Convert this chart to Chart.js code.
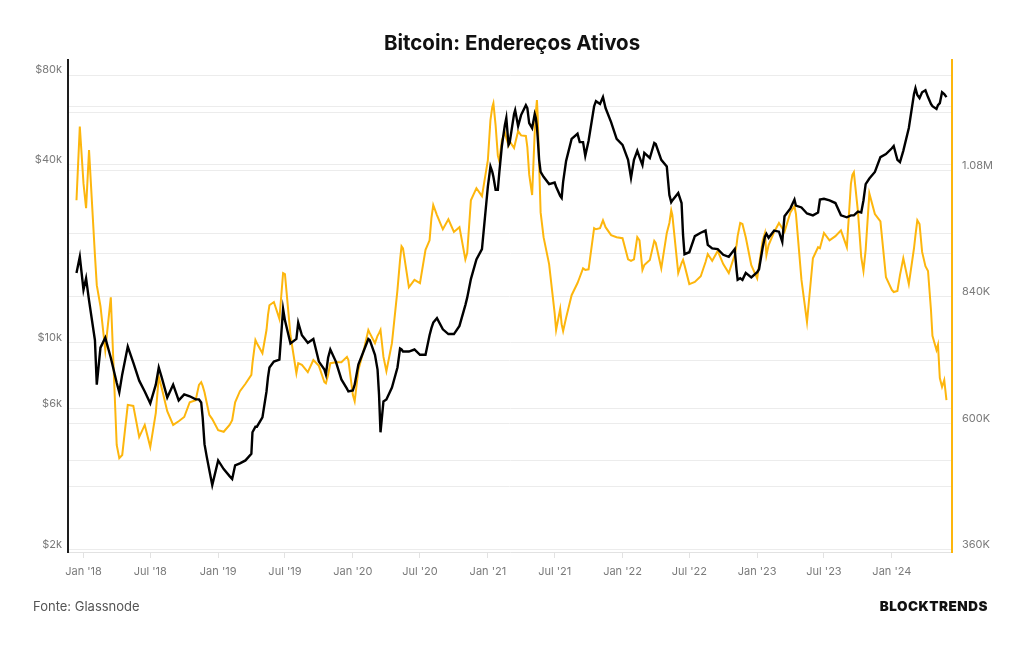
<!DOCTYPE html>
<html>
<head>
<meta charset="utf-8">
<script src="https://cdn.jsdelivr.net/npm/chart.js@4.4.1/dist/chart.umd.min.js"></script>
<style>
  html, body { margin: 0; padding: 0; background: #fff; }
  #wrap { position: relative; width: 1024px; height: 645px; font-family: Inter, "Noto Sans", sans-serif; }
  #title { position: absolute; left: 0; top: 30px; width: 1024px; text-align: center; font-size: 20.5px; font-weight: 700; color: #111; }
  #src { position: absolute; left: 33px; top: 598px; font-size: 13px; color: #555; }
  #brand { position: absolute; right: 36px; top: 598px; font-size: 13.5px; font-weight: 900; letter-spacing: 0.5px; color: #111; }
  canvas { position: absolute; left: 0; top: 0; }
</style>
</head>
<body>
<div id="wrap">
  <canvas id="ch" width="1024" height="645"></canvas>
  <div id="title">Bitcoin: Endereços Ativos</div>
  <div id="src">Fonte: Glassnode</div>
  <div id="brand">BLOCKTRENDS</div>
</div>
<script>
const dates = [
  '2017-12-13','2017-12-22',
  '2018-01-01','2018-01-08','2018-01-16','2018-02-01','2018-02-06','2018-02-16','2018-03-01','2018-03-16','2018-04-01','2018-04-08','2018-04-16','2018-05-01','2018-05-16','2018-06-01','2018-06-16','2018-07-01','2018-07-16','2018-07-24','2018-08-01','2018-08-16','2018-09-01','2018-09-16','2018-10-01','2018-10-16','2018-11-01','2018-11-10','2018-11-16','2018-11-20','2018-11-25','2018-12-01','2018-12-08','2018-12-16',
  '2019-01-01','2019-01-16','2019-02-01','2019-02-08','2019-02-16','2019-03-01','2019-03-16','2019-04-01','2019-04-04','2019-04-12','2019-04-16','2019-05-01','2019-05-12','2019-05-16','2019-05-20','2019-06-01','2019-06-16','2019-06-26','2019-07-01','2019-07-16','2019-08-01','2019-08-06','2019-08-16','2019-09-01','2019-09-16','2019-10-01','2019-10-16','2019-10-20','2019-10-26','2019-11-01','2019-11-16','2019-12-01','2019-12-16','2019-12-20',
  '2020-01-01','2020-01-06','2020-01-16','2020-02-01','2020-02-12','2020-02-16','2020-03-01','2020-03-08','2020-03-12','2020-03-16','2020-03-24','2020-04-01','2020-04-16','2020-05-01','2020-05-08','2020-05-12','2020-05-16','2020-06-01','2020-06-16','2020-07-01','2020-07-16','2020-07-27','2020-08-01','2020-08-06','2020-08-16','2020-09-01','2020-09-16','2020-10-01','2020-10-16','2020-11-01','2020-11-06','2020-11-16','2020-12-01','2020-12-16',
  '2021-01-01','2021-01-08','2021-01-13','2021-01-16','2021-01-22','2021-01-28','2021-02-01','2021-02-08','2021-02-16','2021-02-20','2021-02-26','2021-03-01','2021-03-13','2021-03-16','2021-03-24','2021-04-01','2021-04-14','2021-04-18','2021-04-23','2021-05-01','2021-05-08','2021-05-11','2021-05-14','2021-05-16','2021-05-20','2021-05-24','2021-06-01','2021-06-16','2021-07-01','2021-07-05','2021-07-16','2021-07-20','2021-07-24','2021-08-01','2021-08-16','2021-09-01','2021-09-07','2021-09-16','2021-09-22','2021-10-01','2021-10-16','2021-10-21','2021-11-01','2021-11-09','2021-11-16','2021-12-01','2021-12-16',
  '2022-01-01','2022-01-16','2022-01-24','2022-02-01','2022-02-10','2022-02-16','2022-02-24','2022-03-01','2022-03-16','2022-03-28','2022-04-01','2022-04-16','2022-05-01','2022-05-08','2022-05-13','2022-05-16','2022-06-01','2022-06-10','2022-06-14','2022-06-18','2022-07-01','2022-07-16','2022-08-01','2022-08-14','2022-08-20','2022-09-01','2022-09-16','2022-10-01','2022-10-16','2022-11-01','2022-11-06','2022-11-09','2022-11-16','2022-11-22','2022-12-01','2022-12-16',
  '2023-01-01','2023-01-06','2023-01-16','2023-01-22','2023-01-26','2023-02-01','2023-02-16','2023-03-01','2023-03-10','2023-03-16','2023-04-01','2023-04-12','2023-04-16','2023-05-01','2023-05-16','2023-06-01','2023-06-15','2023-06-20','2023-07-01','2023-07-16','2023-08-01','2023-08-16','2023-09-01','2023-09-12','2023-09-16','2023-09-20','2023-10-01','2023-10-10','2023-10-16','2023-10-22','2023-11-01','2023-11-16','2023-12-01','2023-12-16',
  '2024-01-01','2024-01-06','2024-01-16','2024-01-23','2024-02-01','2024-02-16','2024-03-01','2024-03-05','2024-03-10','2024-03-16','2024-03-23','2024-04-01','2024-04-08','2024-04-16','2024-04-20','2024-05-01','2024-05-05','2024-05-10','2024-05-16','2024-05-22','2024-05-28'
];

// BTC price, thousands of USD (left, log axis)
const btcPriceK = [
  17.2, 19.5,
  15.1, 16.5, 13.9, 10.2, 7.22, 9.63, 10.4, 8.9, 7.33, 6.8, 7.82, 9.71, 8.57, 7.45, 6.85, 6.25, 7.22, 8.25, 7.64, 6.54, 7.22, 6.39, 6.7, 6.6, 6.44, 6.44, 6.29, 5.6, 4.55, 4.13, 3.72, 3.31,
  4.01, 3.75, 3.55, 3.47, 3.86, 3.92, 4.01, 4.22, 4.99, 5.21, 5.21, 5.6, 6.85, 7.64, 8.25, 8.64, 8.77, 13.0, 11.9, 9.95, 10.3, 11.7, 10.6, 10.0, 10.3, 8.64, 8.12, 7.82, 8.9, 9.49, 8.64, 7.52, 7.0, 6.85,
  6.9, 7.22, 8.44, 9.49, 10.3, 10.2, 9.11, 8.12, 6.7, 4.99, 6.34, 6.44, 7.06, 8.25, 9.56, 9.49, 9.34, 9.34, 9.49, 9.11, 9.11, 10.6, 11.2, 11.7, 12.1, 11.1, 10.7, 10.7, 11.4, 13.4, 14.2, 16.4, 19.1, 20.7,
  33.6, 39.3, 37.7, 36.3, 32.8, 32.8, 37.5, 46.1, 54.2, 57.3, 46.5, 47.2, 59.1, 60.9, 53.8, 58.6, 63.3, 61.9, 55.1, 53.0, 59.1, 57.3, 53.4, 49.5, 41.4, 37.7, 36.3, 34.3, 34.7, 33.6, 31.3, 30.8, 34.9, 41.0, 48.7, 50.7, 47.5, 47.5, 42.7, 48.0, 62.8, 65.3, 63.9, 67.4, 61.9, 55.5, 48.7,
  46.5, 41.4, 36.0, 41.4, 44.4, 42.3, 39.8, 43.7, 42.0, 47.2, 46.8, 41.4, 39.3, 31.5, 29.8, 30.2, 32.0, 29.6, 23.1, 19.9, 20.2, 22.9, 23.5, 23.9, 21.4, 20.8, 20.7, 19.8, 19.5, 20.7, 17.6, 16.3, 16.5, 16.3, 17.2, 16.6,
  17.3, 17.7, 21.0, 22.8, 23.3, 22.6, 23.9, 23.7, 21.9, 26.7, 28.4, 30.4, 29.0, 28.6, 27.3, 26.9, 27.5, 30.4, 30.6, 30.2, 29.6, 26.9, 26.5, 26.9, 26.9, 26.9, 27.7, 27.5, 30.2, 34.3, 35.8, 37.7, 42.3, 43.3,
  45.3, 46.1, 41.4, 40.7, 44.4, 53.0, 69.0, 72.2, 68.5, 66.9, 70.0, 71.1, 67.4, 63.9, 62.8, 61.5, 63.3, 64.3, 70.0, 69.0, 67.4
];

// active addresses, thousands (right axis)
const activeAddrK = [
  1023, 1163,
  1055, 1008, 1118, 919, 862, 822, 739, 839, 559, 534, 540, 635, 633, 574, 597, 555, 620, 688, 667, 623, 597, 604, 612, 640, 644, 673, 678, 671, 659, 639, 616, 608,
  587, 584, 597, 606, 640, 661, 675, 692, 714, 758, 752, 733, 777, 805, 824, 830, 798, 885, 883, 767, 695, 714, 711, 697, 720, 709, 678, 676, 692, 714, 716, 716, 726, 720,
  654, 642, 701, 743, 777, 771, 752, 766, 771, 777, 726, 699, 752, 853, 910, 936, 932, 858, 872, 866, 929, 947, 989, 1014, 995, 968, 987, 963, 972, 911, 923, 1023, 1046, 1031,
  1099, 1175, 1200, 1207, 1165, 1108, 1097, 1137, 1152, 1141, 1127, 1135, 1122, 1131, 1154, 1146, 1145, 1124, 1072, 1033, 1152, 1190, 1213, 1184, 1090, 1000, 953, 902, 809, 777, 817, 788, 775, 800, 843, 866, 877, 894, 891, 892, 970, 968, 970, 985, 972, 957, 953,
  951, 911, 908, 911, 953, 947, 891, 900, 910, 946, 942, 894, 961, 980, 1004, 995, 885, 904, 910, 900, 864, 868, 879, 906, 921, 908, 927, 902, 885, 919, 938, 955, 980, 978, 953, 900,
  875, 900, 947, 961, 919, 938, 963, 980, 970, 963, 1000, 1012, 997, 872, 792, 913, 934, 932, 961, 947, 955, 966, 934, 1054, 1071, 1076, 1002, 915, 889, 929, 1036, 997, 983, 877,
  853, 849, 851, 881, 913, 864, 932, 957, 985, 978, 925, 898, 889, 815, 766, 739, 749, 686, 669, 682, 644
];

const xTickDates = ['2018-01-01','2018-07-01','2019-01-01','2019-07-01','2020-01-01','2020-07-01','2021-01-01','2021-07-01','2022-01-01','2022-07-01','2023-01-01','2023-07-01','2024-01-01'];
const xTickLabels = ["Jan '18","Jul '18","Jan '19","Jul '19","Jan '20","Jul '20","Jan '21","Jul '21","Jan '22","Jul '22","Jan '23","Jul '23","Jan '24"];

const leftTicks = [2, 4, 6, 10, 20, 40, 60, 80];
const leftTickLabels = ['$2k', '', '$6k', '$10k', '', '$40k', '', '$80k'];
const rightTicks = [360, 480, 600, 720, 840, 960, 1080, 1200];
const rightTickLabels = ['360K', '', '600K', '', '840K', '', '1.08M', ''];

const BLACK = '#000000';
const GOLD = '#FDB60D';
const GRID = '#ececec';

const ms = d => Date.parse(d);
const priceData = dates.map((d, i) => ({ x: ms(d), y: btcPriceK[i] }));
const addrData = dates.map((d, i) => ({ x: ms(d), y: activeAddrK[i] }));

new Chart(document.getElementById('ch'), {
  type: 'line',
  data: {
    datasets: [
      { label: 'BTC', data: priceData, yAxisID: 'yL', borderColor: BLACK, borderWidth: 2.4, pointRadius: 0, tension: 0 },
      { label: 'Endereços ativos', data: addrData, yAxisID: 'yR', borderColor: GOLD, borderWidth: 2, pointRadius: 0, tension: 0 }
    ]
  },
  options: {
    responsive: false,
    animation: false,
    layout: { padding: { top: 60, left: 0, right: 0, bottom: 0 } },
    plugins: { legend: { display: false }, tooltip: { enabled: false } },
    scales: {
      x: {
        type: 'linear',
        min: ms('2017-11-20'),
        max: ms('2024-06-12'),
        afterBuildTicks: s => { s.ticks = xTickDates.map(d => ({ value: ms(d) })); },
        afterFit: s => { s.height = 93; },
        ticks: { callback: (v, i) => xTickLabels[i], color: '#7a7a7a', font: { family: 'Inter', size: 11 }, padding: 7, maxRotation: 0, autoSkip: false },
        grid: { drawOnChartArea: false, color: '#e2e2e2', tickLength: 6 },
        border: { color: '#e2e2e2', width: 1 }
      },
      yL: {
        type: 'logarithmic',
        position: 'left',
        min: 1.969,
        max: 89.9,
        afterBuildTicks: s => { s.ticks = leftTicks.map(v => ({ value: v })); },
        afterFit: s => { s.width = 68; },
        ticks: { callback: (v, i) => leftTickLabels[i], color: '#7a7a7a', font: { family: 'Inter', size: 11 }, padding: 6, labelOffset: -5, autoSkip: false },
        grid: { color: GRID, drawTicks: false },
        border: { color: '#1e1e1e', width: 2 }
      },
      yR: {
        type: 'linear',
        position: 'right',
        min: 356,
        max: 1289,
        afterBuildTicks: s => { s.ticks = rightTicks.map(v => ({ value: v })); },
        afterFit: s => { s.width = 72; },
        ticks: { callback: (v, i) => rightTickLabels[i], color: '#7a7a7a', font: { family: 'Inter', size: 11 }, padding: 10, labelOffset: -5, autoSkip: false },
        grid: { color: GRID, drawTicks: false },
        border: { color: GOLD, width: 2 }
      }
    }
  }
});
</script>
</body>
</html>
